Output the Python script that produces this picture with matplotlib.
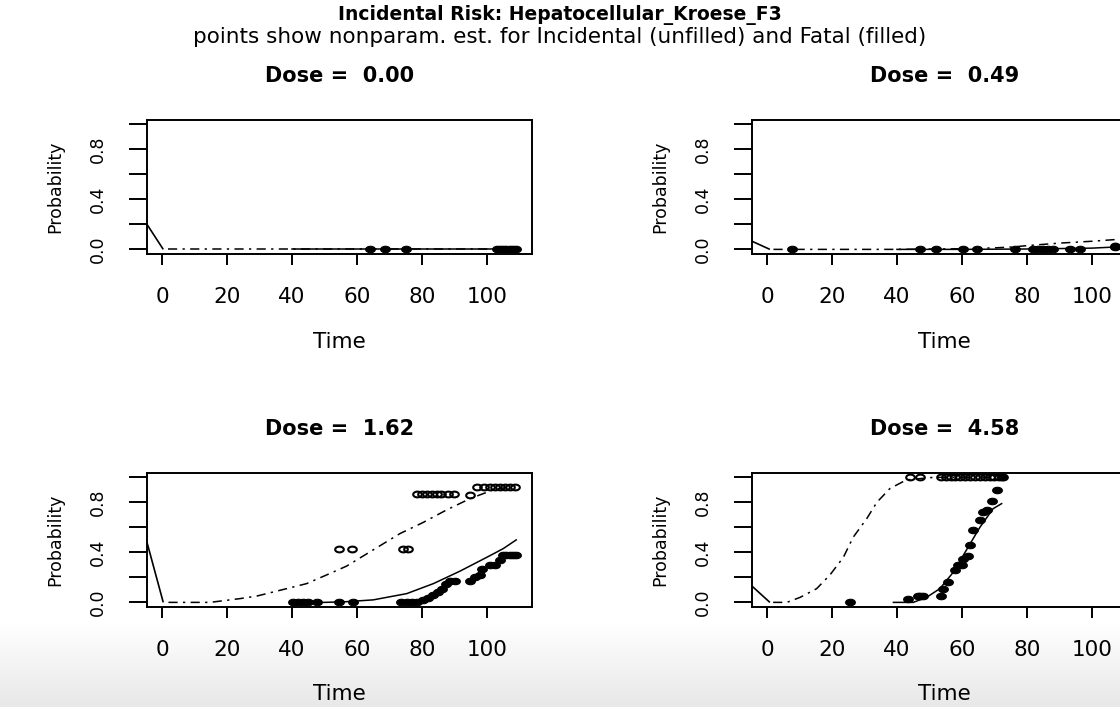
import numpy as np
import matplotlib
matplotlib.use("Agg")
import matplotlib.pyplot as plt
from matplotlib.path import Path
from matplotlib.transforms import ScaledTranslation

# ---------------- data ----------------
main_title = "Incidental Risk: Hepatocellular_Kroese_F3"
sub_title = "points show nonparam. est. for Incidental (unfilled) and Fatal (filled)"
dose_labels = ["0.00", "0.49", "1.62", "4.58"]
x_ticks = [0, 20, 40, 60, 80, 100]
y_ticks = [0.0, 0.2, 0.4, 0.6, 0.8, 1.0]
y_tick_labels = ["0.0", "", "0.4", "", "0.8", ""]
x_label = "Time"
y_label = "Probability"

# leading segment (value at left edge of the panel)
lead_p = [0.20, 0.065, 0.48, 0.13]
lead_end = [0.4, 0.9, 0.4, 0.9]

# Dose 0.00
inc_fit_t0 = [2, 20, 40, 60, 80, 100, 108.5]
inc_fit_p0 = [0, 0, 0, 0, 0, 0, 0]
fat_fit_t0 = [40, 60, 80, 100, 108.5]
fat_fit_p0 = [0, 0, 0, 0, 0]
inc_pts_t0 = []
inc_pts_p0 = []
fat_pts_t0 = [64, 68.5, 75, 103, 104, 105, 106, 107, 108, 109]
fat_pts_p0 = [0, 0, 0, 0, 0, 0, 0, 0, 0, 0]

# Dose 0.49
inc_fit_t1 = [2, 20, 40, 60, 70, 76, 80, 90, 100, 108]
inc_fit_p1 = [0, 0, 0, 0.005, 0.012, 0.02, 0.03, 0.05, 0.065, 0.08]
fat_fit_t1 = [40, 60, 80, 100, 108]
fat_fit_p1 = [0, 0, 0.003, 0.01, 0.02]
inc_pts_t1 = [107]
inc_pts_p1 = [0.03]
fat_pts_t1 = [7.6, 47, 52, 60.2, 64.7, 76.3, 82, 83.5, 85, 86.5, 88, 93.2, 96.3, 107]
fat_pts_p1 = [0, 0, 0, 0, 0, 0, 0, 0, 0, 0, 0, 0, 0, 0.02]

# Dose 1.62
inc_fit_t2 = [2, 8, 14.8, 24, 29.1, 38.4, 44.5, 50.7, 56.8, 65, 73.2, 80.4, 87.6, 94.8, 101.9, 108]
inc_fit_p2 = [0, 0, 0.0, 0.03, 0.05, 0.11, 0.15, 0.22, 0.29, 0.42, 0.55, 0.64, 0.74, 0.83, 0.90, 0.93]
fat_fit_t2 = [40.6, 50, 56.4, 65, 75.3, 83.5, 91.7, 99.9, 105, 109]
fat_fit_p2 = [0, 0, 0.005, 0.02, 0.07, 0.15, 0.25, 0.36, 0.43, 0.50]
inc_pts_t2 = [54.6, 58.5, 74.3, 75.8,
              78.5, 80, 81.5, 83, 84.5, 86, 88, 90, 94.8,
              97, 99, 101, 102.5, 104, 105.5, 107, 108.5]
inc_pts_p2 = [0.43, 0.43, 0.43, 0.43,
              0.865, 0.865, 0.865, 0.865, 0.865, 0.865, 0.865, 0.865, 0.86,
              0.925, 0.925, 0.925, 0.925, 0.925, 0.925, 0.925, 0.925]
fat_pts_t2 = [40.4, 41.9, 43.5, 45, 47.6, 54.6, 58.9, 73.7, 75.3, 76.8, 78.4,
              80.4, 82, 83.5, 85, 86.1, 87.4, 88.6, 90.2, 94.8, 96.3, 97.8, 98.4,
              101, 102.5, 104, 105, 106, 107, 108, 109]
fat_pts_p2 = [0, 0, 0, 0, 0, 0, 0, 0, 0, 0, 0,
              0.02, 0.035, 0.056, 0.08, 0.11, 0.144, 0.17, 0.17, 0.17, 0.20, 0.22, 0.27,
              0.30, 0.30, 0.34, 0.38, 0.38, 0.38, 0.38, 0.38]

# Dose 4.58
inc_fit_t3 = [1.9, 6.1, 10.2, 15.3, 19.4, 23.5, 26.5, 30.7, 33.8, 37.8, 42.9, 51.2, 60, 72]
inc_fit_p3 = [0, 0.0, 0.04, 0.11, 0.22, 0.36, 0.52, 0.67, 0.80, 0.91, 0.98, 1.0, 1.0, 1.0]
fat_fit_t3 = [38.9, 45, 49.1, 53.2, 57.3, 61.4, 65.5, 69.6, 72.2]
fat_fit_p3 = [0, 0.0, 0.04, 0.11, 0.24, 0.42, 0.60, 0.75, 0.79]
inc_pts_t3 = [44, 47.1, 53.5, 55, 56.5, 58, 59.5, 61, 62.5, 64, 65.5, 67, 68.5, 70, 71.5, 72.5]
inc_pts_p3 = [1.0] * 16
fat_pts_t3 = [25.5, 43.5, 46.5, 47.1, 48, 53.7, 54.3, 55.8, 57.8, 58.9, 59.9, 60.4, 61.9,
              62.5, 63.5, 65.5, 66.6, 67.6, 69.1, 70.9, 72.2]
fat_pts_p3 = [0.0, 0.03, 0.05, 0.05, 0.05, 0.05, 0.11, 0.16, 0.26, 0.30, 0.30, 0.35, 0.37,
              0.46, 0.58, 0.66, 0.72, 0.74, 0.81, 0.90, 1.0]

inc_fit_t = [inc_fit_t0, inc_fit_t1, inc_fit_t2, inc_fit_t3]
inc_fit_p = [inc_fit_p0, inc_fit_p1, inc_fit_p2, inc_fit_p3]
fat_fit_t = [fat_fit_t0, fat_fit_t1, fat_fit_t2, fat_fit_t3]
fat_fit_p = [fat_fit_p0, fat_fit_p1, fat_fit_p2, fat_fit_p3]
inc_pts_t = [inc_pts_t0, inc_pts_t1, inc_pts_t2, inc_pts_t3]
inc_pts_p = [inc_pts_p0, inc_pts_p1, inc_pts_p2, inc_pts_p3]
fat_pts_t = [fat_pts_t0, fat_pts_t1, fat_pts_t2, fat_pts_t3]
fat_pts_p = [fat_pts_p0, fat_pts_p1, fat_pts_p2, fat_pts_p3]

# ---------------- layout ----------------
W, H = 1120, 707
DPI = 100
XLIM = (-4.6, 113.85)
YLIM = (-0.033, 1.035)

plt.rcParams['font.family'] = ['DejaVu Sans']
fig = plt.figure(figsize=(W / DPI, H / DPI), dpi=DPI)
fig.patch.set_facecolor('white')

# soft grey fade at the bottom of the page
bg = fig.add_axes([0, 0, 1, 85 / H], zorder=-10)
bg.axis('off')
n = 85
grad = np.ones((n, 2, 4))
shade = np.linspace(0.91, 1.0, n)
grad[:, :, 0] = shade[:, None]
grad[:, :, 1] = shade[:, None]
grad[:, :, 2] = shade[:, None]
bg.imshow(grad, origin='lower', aspect='auto', extent=(0, 1, 0, 1), interpolation='bilinear')

# ellipse marker (the reference is horizontally stretched)
th = np.linspace(0, 2 * np.pi, 49)
ell = Path(np.column_stack([1.5 * np.cos(th), np.sin(th)]), closed=True)

panel_px = [(147, 120), (752, 120), (147, 473), (752, 473)]
pw, ph = 385, 133.5


def px_offset(ax, dx, dy):
    return ax.transAxes + ScaledTranslation(dx / DPI, dy / DPI, fig.dpi_scale_trans)


for i in range(4):
    lx, ty = panel_px[i]
    ax = fig.add_axes([lx / W, (H - ty - ph) / H, pw / W, ph / H])
    ax.set_facecolor('none')
    ax.set_xlim(*XLIM)
    ax.set_ylim(*YLIM)

    # leading segment
    ax.plot([XLIM[0], lead_end[i]], [lead_p[i], 0], color='black', lw=1.2, solid_capstyle='butt')
    # fitted curves
    ax.plot(inc_fit_t[i], inc_fit_p[i], color='black', lw=1.1,
            linestyle=(0, (6, 3.5, 1.5, 3.5)))
    ax.plot(fat_fit_t[i], fat_fit_p[i], color='black', lw=1.1)
    # nonparametric points
    if len(inc_pts_t[i]):
        ax.plot(inc_pts_t[i], inc_pts_p[i], linestyle='none', marker=ell, ms=6.2,
                mfc='none', mec='black', mew=1.5)
    ax.plot(fat_pts_t[i], fat_pts_p[i], linestyle='none', marker=ell, ms=7.0,
            mfc='black', mec='black', mew=0.8)

    for sp in ax.spines.values():
        sp.set_linewidth(1.4)
    ax.set_xticks(x_ticks)
    ax.set_xticklabels([str(v) for v in x_ticks])
    ax.set_yticks(y_ticks)
    ax.set_yticklabels(y_tick_labels)
    ax.tick_params(axis='x', length=8, width=1.4, pad=16, labelsize=15.5)
    ax.tick_params(axis='y', length=13, width=1.4, pad=16, labelsize=12.5)
    for lab in ax.get_yticklabels():
        lab.set_rotation(90)
        lab.set_va('center')

    ax.text(0.5, 1.0, "Dose =  " + dose_labels[i], transform=px_offset(ax, 0, 44),
            ha='center', va='center', fontsize=15, fontweight='bold')
    ax.text(0.5, 0.0, x_label, transform=px_offset(ax, 0, -88),
            ha='center', va='center', fontsize=15.5)
    ax.text(0.0, 0.5, y_label, transform=px_offset(ax, -92, 0),
            ha='center', va='center', fontsize=12.5, rotation=90)

fig.text(0.5, 1 - 15 / H, main_title, ha='center', va='center',
         fontsize=13.5, fontweight='bold')
fig.text(0.5, 1 - 37 / H, sub_title, ha='center', va='center', fontsize=15.5)

fig.savefig("out.png", dpi=DPI)
